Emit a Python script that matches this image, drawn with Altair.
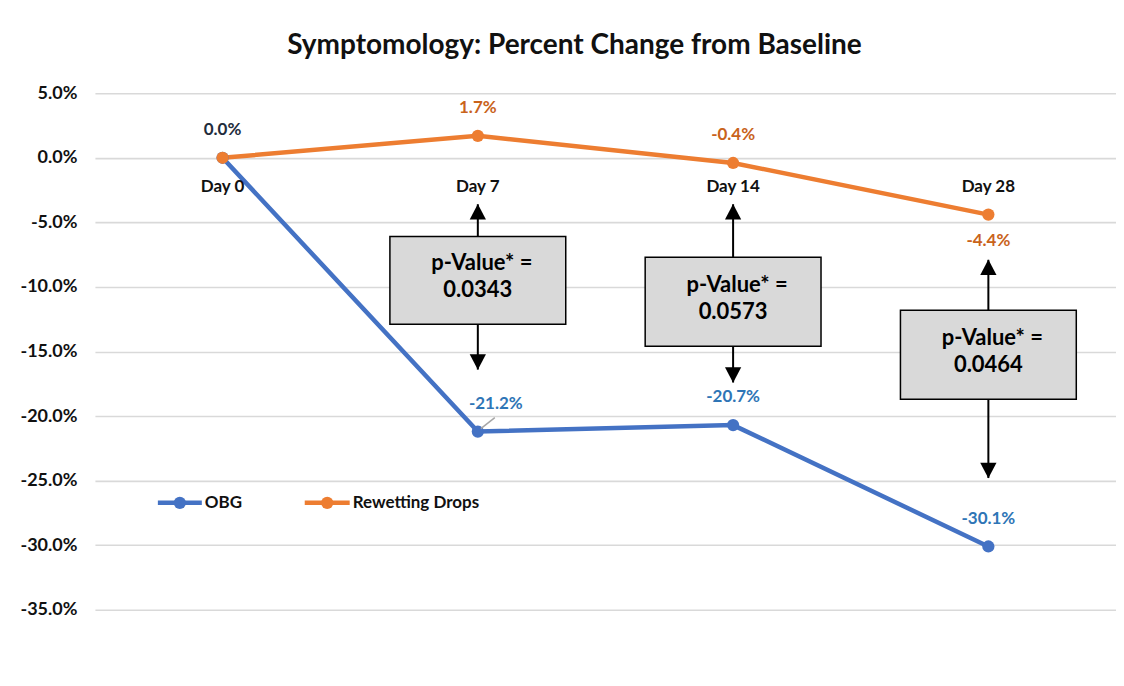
import altair as alt
import pandas as pd

# ---- data ----
days = ["Day 0", "Day 7", "Day 14", "Day 28"]
series_names = ["OBG", "Rewetting Drops"]
obg = [0.0, -0.212, -0.207, -0.301]
rewetting = [0.0, 0.017, -0.004, -0.044]
y_ticks = [0.05, 0.0, -0.05, -0.10, -0.15, -0.20, -0.25, -0.30, -0.35]

# annotation boxes (p-values) and their arrows, in axis units
p_days = ["Day 7", "Day 14", "Day 28"]
p_values = ["0.0343", "0.0573", "0.0464"]
box_top = [-0.061, -0.077, -0.118]
box_bottom = [-0.129, -0.146, -0.187]
arrow_up_tip = [-0.036, -0.036, -0.079]
arrow_down_tip = [-0.164, -0.174, -0.248]

colors = ["#4472C4", "#ED7D31"]
label_colors = {"OBG": "#2E75B6", "Rewetting Drops": "#C9631B"}
FONT = "Lato"
MINUS = "\u2212"

df = pd.DataFrame({
    "day": days * 2,
    "series": [series_names[0]] * 4 + [series_names[1]] * 4,
    "value": obg + rewetting,
})
ann = pd.DataFrame({
    "day": p_days, "pval": p_values, "top": box_top, "bottom": box_bottom,
    "up": arrow_up_tip, "down": arrow_down_tip,
})
ann["mid"] = (ann["top"] + ann["bottom"]) / 2
xdf = pd.DataFrame({"day": days, "zero": [0.0] * 4})
legdf = pd.DataFrame({"series": series_names})

xscale = alt.Scale(type="point", padding=0.5, domain=days)
yscale = alt.Scale(domain=[-0.35, 0.05], nice=False, zero=False)
X = alt.X("day:N", scale=xscale, axis=None, sort=days)
cscale = alt.Scale(domain=series_names, range=colors)

Y = alt.Y("value:Q", scale=yscale, title=None,
          axis=alt.Axis(values=y_ticks, format=".1%", grid=True, gridColor="#D9D9D9",
                        gridWidth=1.6, domain=False, ticks=False, labelPadding=18,
                        labelExpr=f"replace(datum.label, '{MINUS}', '-')",
                        labelFont=FONT, labelFontSize=18, labelFontWeight="bold",
                        labelColor="#111111"))

base = alt.Chart(df).transform_calculate(
    lab=f"replace(format(datum.value, '.1%'), '{MINUS}', '-')",
)
COLOR = alt.Color("series:N", scale=cscale, legend=None)

lines_obg = base.transform_filter(alt.datum.series == "OBG").mark_line(strokeWidth=4.5).encode(
    x=X, y=Y, color=COLOR)
lines_rw = base.transform_filter(alt.datum.series == "Rewetting Drops").mark_line(strokeWidth=4.5).encode(
    x=X, y="value:Q", color=COLOR)
pts_obg = base.transform_filter(alt.datum.series == "OBG").mark_circle(size=150, opacity=1).encode(
    x=X, y="value:Q", color=COLOR)
pts_rw = base.transform_filter(alt.datum.series == "Rewetting Drops").mark_circle(size=150, opacity=1).encode(
    x=X, y="value:Q", color=COLOR)

def lbl(filter_expr, color, dx=0, dy=-28):
    return base.transform_filter(filter_expr).mark_text(
        font=FONT, fontSize=17, fontWeight="bold", color=color, dx=dx, dy=dy
    ).encode(x=X, y="value:Q", text="lab:N")

lab_day0 = lbl("datum.series == 'OBG' && datum.day == 'Day 0'", "#1F2D3D")
lab_obg = lbl("datum.series == 'OBG' && datum.day != 'Day 0' && datum.day != 'Day 7'",
              label_colors["OBG"])
lab_obg7 = lbl("datum.series == 'OBG' && datum.day == 'Day 7'", label_colors["OBG"], dx=18)
lab_rw = lbl("datum.series == 'Rewetting Drops' && datum.day != 'Day 0' && datum.day != 'Day 28'",
             label_colors["Rewetting Drops"])
lab_rw28 = lbl("datum.series == 'Rewetting Drops' && datum.day == 'Day 28'",
               label_colors["Rewetting Drops"], dy=26)

leader = base.transform_filter("datum.series == 'OBG' && datum.day == 'Day 7'").mark_rule(
    color="#A6A6A6", strokeWidth=1.5, xOffset=3, yOffset=-3, x2Offset=17, y2Offset=-14
).encode(x=X, x2=alt.X2("day:N"), y="value:Q", y2="value:Q")

xlabels = alt.Chart(xdf).mark_text(font=FONT, fontSize=17, fontWeight="bold", color="#111111", dy=29).encode(
    x=X, y=alt.Y("zero:Q", scale=yscale), text="day:N")

a = alt.Chart(ann)
boxes = a.mark_rect(width=176, fill="#D9D9D9", stroke="#000000", strokeWidth=1.5).encode(
    x=X, y=alt.Y("top:Q", scale=yscale), y2="bottom:Q")
shaft_up = a.mark_rule(color="black", strokeWidth=2).encode(x=X, y=alt.Y("top:Q", scale=yscale), y2="up:Q")
shaft_dn = a.mark_rule(color="black", strokeWidth=2).encode(x=X, y=alt.Y("bottom:Q", scale=yscale), y2="down:Q")
head_up = a.mark_point(shape="M0,-1 L1.05,1 L-1.05,1 Z", size=240, filled=True, color="black",
                       opacity=1, yOffset=7.5).encode(x=X, y=alt.Y("up:Q", scale=yscale))
head_dn = a.mark_point(shape="M0,1 L1.05,-1 L-1.05,-1 Z", size=240, filled=True, color="black",
                       opacity=1, yOffset=-7.5).encode(x=X, y=alt.Y("down:Q", scale=yscale))
ptxt1 = a.mark_text(font=FONT, fontSize=22, fontWeight="bold", color="black", dy=-17, dx=4).encode(
    x=X, y=alt.Y("mid:Q", scale=yscale), text=alt.value("p-Value* ="))
ptxt2 = a.mark_text(font=FONT, fontSize=22, fontWeight="bold", color="black", dy=10).encode(
    x=X, y=alt.Y("mid:Q", scale=yscale), text="pval:N")

# ---- manual legend (inside plot, bottom-left) ----
LEG_Y = 410
leg_layers = []
for name, (x0, x1) in zip(series_names, [(63, 107), (210, 255)]):
    ld = alt.Chart(legdf).transform_filter(alt.datum.series == name)
    leg_layers.append(ld.mark_rule(strokeWidth=4.5).encode(
        x=alt.value(x0), x2=alt.value(x1), y=alt.value(LEG_Y), color=COLOR))
    leg_layers.append(ld.mark_circle(size=150, opacity=1).encode(
        x=alt.value((x0 + x1) / 2), y=alt.value(LEG_Y), color=COLOR))
    leg_layers.append(ld.mark_text(font=FONT, fontSize=17, fontWeight="bold", color="#111111",
                                   align="left", baseline="middle").encode(
        x=alt.value(x1 + 3), y=alt.value(LEG_Y), text="series:N"))

chart = alt.layer(
    lines_obg, lines_rw, pts_obg, pts_rw, leader,
    lab_day0, lab_obg, lab_obg7, lab_rw, lab_rw28, xlabels,
    shaft_up, shaft_dn, head_up, head_dn, boxes, ptxt1, ptxt2,
    *leg_layers,
).properties(
    width=1022, height=517,
    autosize=alt.AutoSizeParams(type="none"),
    padding={"left": 87, "top": 85, "right": 0, "bottom": 60},
    title=alt.TitleParams("Symptomology: Percent Change from Baseline", font=FONT, fontSize=28,
                          fontWeight="bold", color="#111111", anchor="middle", dx=-31, offset=24),
    background="white",
).configure_view(stroke=None)

chart.save("out.html", embed_options={"renderer": "svg", "actions": False})
